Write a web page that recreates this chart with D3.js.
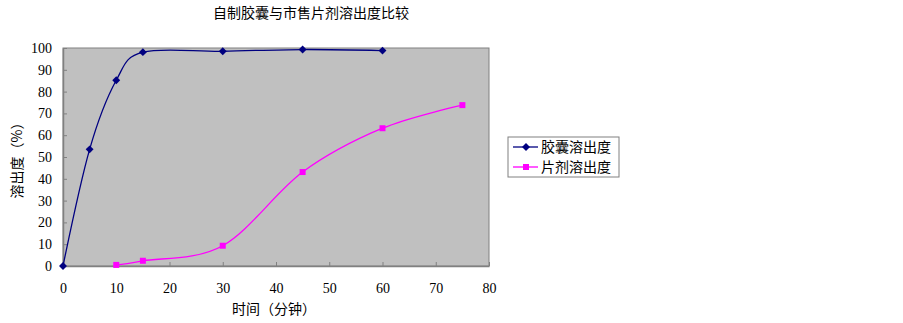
<!DOCTYPE html>
<html>
<head>
<meta charset="utf-8">
<script src="https://cdn.jsdelivr.net/npm/d3@7"></script>
<style>
  body { margin: 0; background: #fff; }
  text { fill: #000; }
  .cjk { font-family: "Noto Sans CJK SC", sans-serif; font-size: 14px; }
</style>
</head>
<body>
<div id="chart"></div>
<script>
// data
let capsuleTime = [0, 5, 10, 15, 30, 45, 60]
let capsuleValue = [0, 53.5, 85.2, 98.1, 98.5, 99.3, 98.8]
let tabletTime = [10, 15, 30, 45, 60, 75]
let tabletValue = [0.5, 2.4, 9.3, 43.1, 63.2, 73.8]
let xTicks = [0, 10, 20, 30, 40, 50, 60, 70, 80]
let yTicks = [0, 10, 20, 30, 40, 50, 60, 70, 80, 90, 100]
let seriesNames = ["胶囊溶出度", "片剂溶出度"]
let seriesColors = ["#000080", "#FF00FF"]

let margin = {top: 48, left: 63}
let width = 426, height = 218

let svg = d3.select("#chart").append("svg")
	.attr("width", 903)
	.attr("height", 323)

svg.append("text")
	.attr("class", "cjk")
	.attr("x", 311)
	.attr("y", 18)
	.attr("text-anchor", "middle")
	.text("自制胶囊与市售片剂溶出度比较")

let g = svg.append("g")
	.attr("transform", "translate(" + margin.left + "," + margin.top + ")")

let x = d3.scaleLinear().domain([0, 80]).range([0, width])
let y = d3.scaleLinear().domain([0, 100]).range([height, 0])

g.append("rect")
	.attr("width", width)
	.attr("height", height)
	.attr("fill", "#C0C0C0")
	.attr("stroke", "#808080")
	.attr("stroke-width", 1)

// axes, ticks pointing into the plot like the original
let xAxis = g.append("g")
	.attr("transform", "translate(0," + height + ")")
	.call(d3.axisBottom(x).tickValues(xTicks).tickSizeInner(-4).tickSizeOuter(0).tickPadding(17))
let yAxis = g.append("g")
	.call(d3.axisLeft(y).tickValues(yTicks).tickSizeInner(-4).tickSizeOuter(0).tickPadding(11))

for (let ax of [xAxis, yAxis]) {
	ax.attr("font-family", "Liberation Serif").attr("font-size", 14)
	ax.select(".domain").attr("stroke", "#808080").attr("stroke-width", 1.5)
	ax.selectAll(".tick line").attr("stroke", "#808080")
	ax.selectAll("text").style("font-family", "'Liberation Serif', 'DejaVu Serif', serif").style("font-size", "14px")
}

svg.append("text")
	.attr("class", "cjk")
	.attr("x", 274)
	.attr("y", 314)
	.attr("text-anchor", "middle")
	.text("时间（分钟）")

svg.append("text")
	.attr("class", "cjk")
	.attr("transform", "translate(22,157) rotate(-90)")
	.attr("text-anchor", "middle")
	.text("溶出度（%）")

let line = d3.line()
	.x(d => x(d[0]))
	.y(d => y(d[1]))
	.curve(d3.curveCatmullRom.alpha(0))

let capsule = capsuleTime.map((t, i) => [t, capsuleValue[i]])
let tablet = tabletTime.map((t, i) => [t, tabletValue[i]])

g.append("path")
	.datum(capsule)
	.attr("d", line)
	.attr("fill", "none")
	.attr("stroke", seriesColors[0])
	.attr("stroke-width", 1.3)

g.append("path")
	.datum(tablet)
	.attr("d", line)
	.attr("fill", "none")
	.attr("stroke", seriesColors[1])
	.attr("stroke-width", 1.3)

let diamond = d3.symbol().type(d3.symbolDiamond2).size(40)
let square = d3.symbol().type(d3.symbolSquare).size(36)

g.selectAll(".cap")
	.data(capsule)
	.enter()
	.append("path")
	.attr("class", "cap")
	.attr("d", diamond)
	.attr("transform", d => "translate(" + x(d[0]) + "," + y(d[1]) + ")")
	.attr("fill", seriesColors[0])

g.selectAll(".tab")
	.data(tablet)
	.enter()
	.append("path")
	.attr("class", "tab")
	.attr("d", square)
	.attr("transform", d => "translate(" + x(d[0]) + "," + y(d[1]) + ")")
	.attr("fill", seriesColors[1])

// legend
let legend = svg.append("g").attr("transform", "translate(508,137)")
legend.append("rect")
	.attr("width", 111)
	.attr("height", 40)
	.attr("fill", "#fff")
	.attr("stroke", "#808080")

seriesNames.forEach(function(name, i) {
	let ly = 10 + i * 20
	legend.append("line")
		.attr("x1", 5).attr("x2", 30)
		.attr("y1", ly).attr("y2", ly)
		.attr("stroke", seriesColors[i])
		.attr("stroke-width", 1.3)
	legend.append("path")
		.attr("d", i == 0 ? diamond : square)
		.attr("transform", "translate(18," + ly + ")")
		.attr("fill", seriesColors[i])
	legend.append("text")
		.attr("class", "cjk")
		.attr("x", 33)
		.attr("y", ly + 5)
		.text(name)
})
</script>
</body>
</html>
